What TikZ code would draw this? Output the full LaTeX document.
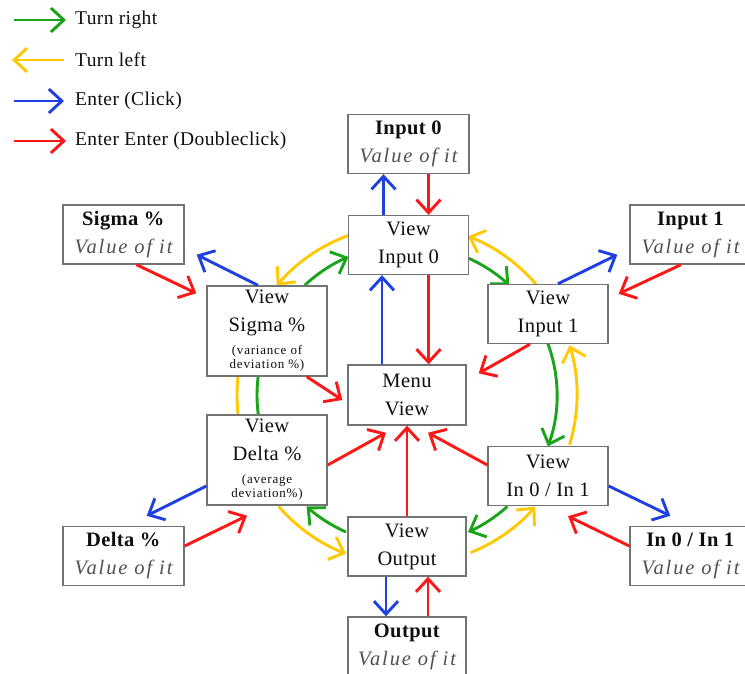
\documentclass[tikz,border=0pt]{standalone}
\usepackage{fontspec}
\setmainfont{Liberation Serif}[LetterSpace=2]
\newfontfamily\valfont{Liberation Serif}[LetterSpace=9]
\usetikzlibrary{arrows.meta,calc}

\definecolor{cgreen}{RGB}{25,165,25}
\definecolor{cyellow}{RGB}{255,200,0}
\definecolor{cblue}{RGB}{30,64,225}
\definecolor{cred}{RGB}{255,22,22}
\definecolor{boxline}{RGB}{115,115,115}
\definecolor{txt}{RGB}{15,15,15}
\definecolor{valtxt}{RGB}{80,80,80}

\newcommand\notetxt{\fontsize{13}{14}\selectfont\addfontfeature{LetterSpace=6}}
\newcommand\valtxt[1]{{\color{valtxt}\valfont\itshape #1}}

\begin{document}
\begin{tikzpicture}[x=1pt,y=-1pt,
  box/.style={draw=boxline, line width=1.4pt, fill=white, text=txt,
    minimum width=121pt, minimum height=59pt, inner sep=0pt, align=center,
    font=\fontsize{20.5}{28}\selectfont},
  viewbox/.style={box, minimum width=120pt},
  tallbox/.style={viewbox, minimum height=90pt},
  con/.style={line width=2.9pt,
    -{Straight Barb[length=13pt,width=24pt,line width=2.9pt]}},
  plain/.style={line width=2.9pt},
  legtxt/.style={anchor=west, inner sep=0pt, text=txt,
    font=\fontsize{19.5}{22}\selectfont}
]
\clip (0,0) rectangle (745,674);

% ---- legend ----
\node[legtxt] (lg) at (75,20) {Turn right};
\node[legtxt] (ly) at (75,60) {Turn left};
\node[legtxt] (lb) at (75,101) {Enter (Click)};
\node[legtxt] (lr) at (75,141) {Enter Enter (Doubleclick)};
\draw[con, cgreen]  ([xshift=-61pt]lg.west) -- ([xshift=-9pt]lg.west);
\draw[con, cyellow] ([xshift=-11pt]ly.west) -- ([xshift=-63pt]ly.west);
\draw[con, cblue]   ([xshift=-61pt]lb.west) -- ([xshift=-11pt]lb.west);
\draw[con, cred]    ([xshift=-61pt]lr.west) -- ([xshift=-9pt]lr.west);

% ---- centre of the rotary ring ----
\coordinate (ring) at (407,395);

% ---- turning ring: green = clockwise, yellow = anticlockwise ----
\begin{scope}[cgreen]
\draw[con] ($(ring)+(133:150pt)$) arc[start angle=133, end angle=113, radius=150pt];
\draw[con] ($(ring)+(66:150pt)$)  arc[start angle=66,  end angle=47,  radius=150pt];
\draw[con] ($(ring)+(20:150pt)$)  arc[start angle=20,  end angle=-20, radius=150pt];
\draw[con] ($(ring)+(-48:150pt)$) arc[start angle=-48, end angle=-66, radius=150pt];
\draw[con] ($(ring)+(246:150pt)$) arc[start angle=246, end angle=228, radius=150pt];
\draw[plain] ($(ring)+(189:150pt)$) arc[start angle=189, end angle=171, radius=150pt];
\end{scope}
\begin{scope}[cyellow]
\draw[con] ($(ring)+(110:170pt)$) arc[start angle=110, end angle=140, radius=170pt];
\draw[con] ($(ring)+(40:170pt)$)  arc[start angle=40,  end angle=69,  radius=170pt];
\draw[con] ($(ring)+(-17:170pt)$) arc[start angle=-17, end angle=17,  radius=170pt];
\draw[con] ($(ring)+(-68:170pt)$) arc[start angle=-68, end angle=-41, radius=170pt];
\draw[con] ($(ring)+(221:170pt)$) arc[start angle=221, end angle=249, radius=170pt];
\draw[plain] ($(ring)+(172:170pt)$) arc[start angle=172, end angle=188, radius=170pt];
\end{scope}

% ---- boxes ----
\node[box] (i0)  at (408.5,144) {\textbf{Input 0}\\\valtxt{Value of it}};
\node[viewbox] (vi0) at (408.5,245) {View\\Input 0};
\node[box] (sig) at (123.5,234.5) {\textbf{Sigma \%}\\\valtxt{Value of it}};
\node[box] (in1) at (690.5,234.5) {\textbf{Input 1}\\\valtxt{Value of it}};
\node[tallbox] (vsig) at (267,331) {View\\Sigma \%\\[-5pt]{\notetxt (variance of}\\[-14pt]{\notetxt deviation \%)}};
\node[viewbox] (vin1) at (548,314) {View\\Input 1};
\node[box, minimum width=118pt, minimum height=60pt] (menu) at (407,395) {Menu\\View};
\node[tallbox] (vdel) at (267,460) {View\\Delta \%\\[-5pt]{\notetxt (average}\\[-14pt]{\notetxt deviation\%)}};
\node[viewbox] (vio) at (548,476) {View\\In 0 / In 1};
\node[box, minimum width=118pt] (vout) at (407,546.5) {View\\Output};
\node[box] (del) at (123.5,556) {\textbf{Delta \%}\\\valtxt{Value of it}};
\node[box] (iol) at (690.5,556) {\textbf{In 0 / In 1}\\\valtxt{Value of it}};
\node[box, minimum width=118pt] (outl) at (407,646.5) {\textbf{Output}\\\valtxt{Value of it}};

% ---- enter (blue) and double enter (red) ----
\draw[con, cblue] ([xshift=-25pt]vi0.north) -- ([xshift=-25pt]i0.south);
\draw[con, cred]  ([xshift=20pt]i0.south) -- ([xshift=20pt]vi0.north);
\draw[con, cblue] ([xshift=-25pt]menu.north) -- ([xshift=-25pt]menu.north |- vi0.south);
\draw[con, cred]  ([xshift=20pt]vi0.south) -- ([xshift=20pt]vi0.south |- menu.north);

\draw[con, cblue] ([xshift=-9pt]vsig.north) -- ([xshift=12pt,yshift=10pt]sig.south east);
\draw[con, cred]  ([xshift=13pt]sig.south) -- ([xshift=-10pt,yshift=-8pt]vsig.north west);
\draw[con, cred]  ([xshift=-21pt]vsig.south east) -- ([xshift=-5pt,yshift=-5pt]menu.west);

\draw[con, cblue] ([xshift=10pt]vin1.north) -- ([xshift=-12pt,yshift=10pt]in1.south west);
\draw[con, cred]  ([xshift=-9.5pt]in1.south) -- ([xshift=10pt,yshift=-10pt]vin1.north east);
\draw[con, cred]  ([xshift=-18pt]vin1.south) -- ([xshift=12pt,yshift=-9pt]menu.north east);

\draw[con, cred]  ([yshift=-5pt]vdel.east) -- ([xshift=-21pt,yshift=-7pt]menu.south);
\draw[con, cred]  (vout.north) -- (menu.south);
\draw[con, cred]  ([yshift=11pt]vio.west) -- ([xshift=21pt,yshift=-7pt]menu.south);

\draw[con, cblue] ([yshift=-26pt]vdel.west) -- ([xshift=-38pt,yshift=10pt]del.north east);
\draw[con, cred]  ([yshift=10pt]del.east) -- ([xshift=-20pt,yshift=-10pt]vdel.south);
\draw[con, cblue] ([yshift=-10pt]vio.east) -- ([xshift=41pt,yshift=10pt]iol.north west);
\draw[con, cred]  ([yshift=10pt]iol.west) -- ([xshift=20pt,yshift=-10pt]vio.south);

\draw[con, cblue] ([xshift=-21pt]vout.south) -- ([xshift=-21pt]outl.north);
\draw[con, cred]  ([xshift=21pt]outl.north) -- ([xshift=21pt]vout.south);
\end{tikzpicture}
\end{document}
